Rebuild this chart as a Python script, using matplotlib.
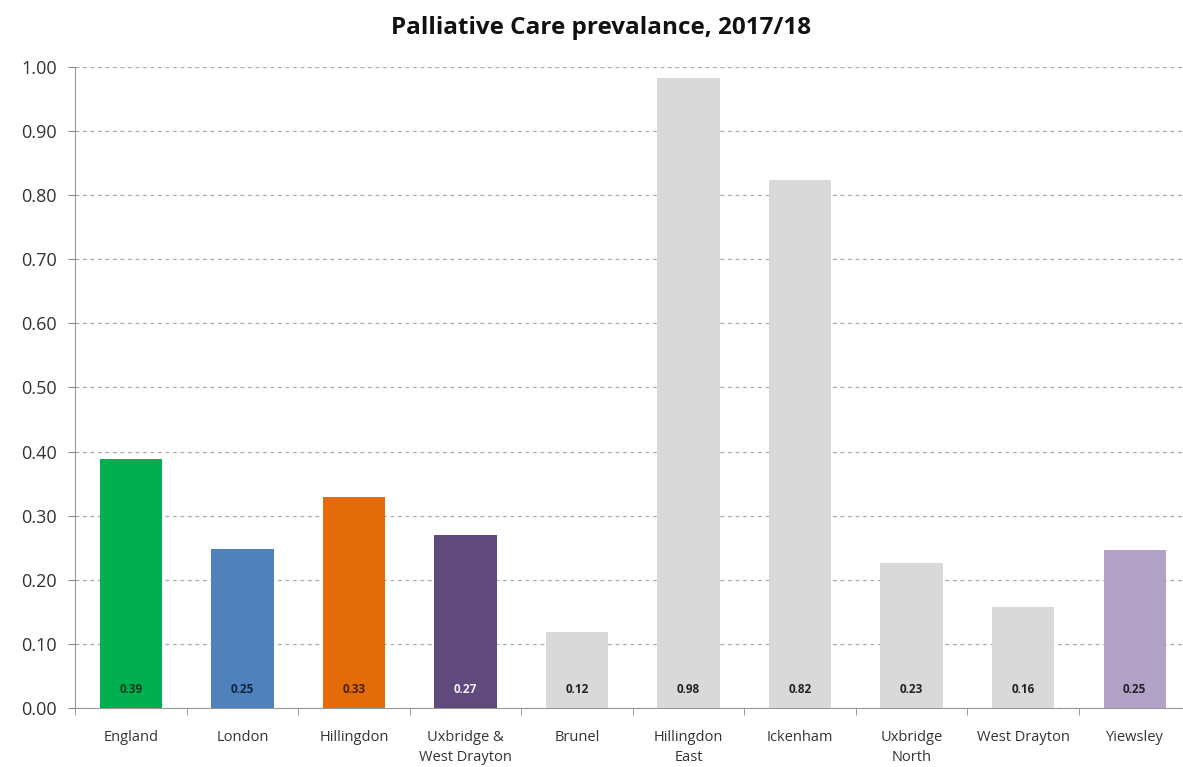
import matplotlib
matplotlib.use("Agg")
import matplotlib.pyplot as plt
import numpy as np

# data
areas = ["England", "London", "Hillingdon", "Uxbridge &\nWest Drayton", "Brunel",
         "Hillingdon\nEast", "Ickenham", "Uxbridge\nNorth", "West Drayton", "Yiewsley"]
prevalence = [0.388, 0.248, 0.329, 0.270, 0.119, 0.983, 0.823, 0.226, 0.158, 0.246]
bar_colors = ["#00B050", "#4F81BD", "#E36C09", "#604A7B", "#D9D9D9",
              "#D9D9D9", "#D9D9D9", "#D9D9D9", "#D9D9D9", "#B3A2C7"]
label_colors = ["#0b3d1a", "#10243f", "#4a2100", "#f2eef8", "#222222",
                "#222222", "#222222", "#222222", "#222222", "#222222"]

plt.rcParams['font.family'] = ['Open Sans', 'DejaVu Sans']

fig = plt.figure(figsize=(11.83, 7.67), dpi=100)
ax = fig.add_axes([0.0634, 0.077, 0.943, 0.8356])

x = np.arange(len(areas))
ax.bar(x, prevalence, width=0.56, color=bar_colors, zorder=3)

# value labels sit at the bottom of each bar
for xi, v, c in zip(x, prevalence, label_colors):
    ax.text(xi, 0.028, "%.2f" % v, ha="center", va="center",
            fontsize=8.5, fontweight="bold", color=c, zorder=4)

ax.set_xlim(-0.5, len(areas) - 0.5)
ax.set_ylim(0, 1.0)
ax.set_yticks(np.arange(0, 1.01, 0.1))
ax.set_yticklabels(["%.2f" % t for t in np.arange(0, 1.01, 0.1)], fontsize=13, color="#333333")

ax.set_xticks(x)
ax.set_xticklabels(areas, fontsize=10.5, color="#333333", linespacing=1.45)
ax.set_xticks(np.arange(-0.5, len(areas), 1.0), minor=True)
ax.tick_params(axis="x", which="major", length=0, pad=16)
ax.tick_params(axis="x", which="minor", length=5, color="#888888")
ax.tick_params(axis="y", length=5, color="#888888", pad=8)

ax.yaxis.grid(True, linestyle=(0, (3, 3)), color="#aaaaaa", linewidth=0.9, zorder=0)
for side in ["top", "right"]:
    ax.spines[side].set_visible(False)
for side in ["left", "bottom"]:
    ax.spines[side].set_color("#999999")

fig.text(0.508, 0.9635, "Palliative Care prevalance, 2017/18", ha="center", va="center",
         fontsize=17.5, fontweight="bold", color="#111111")

fig.savefig("out.png", dpi=100)
